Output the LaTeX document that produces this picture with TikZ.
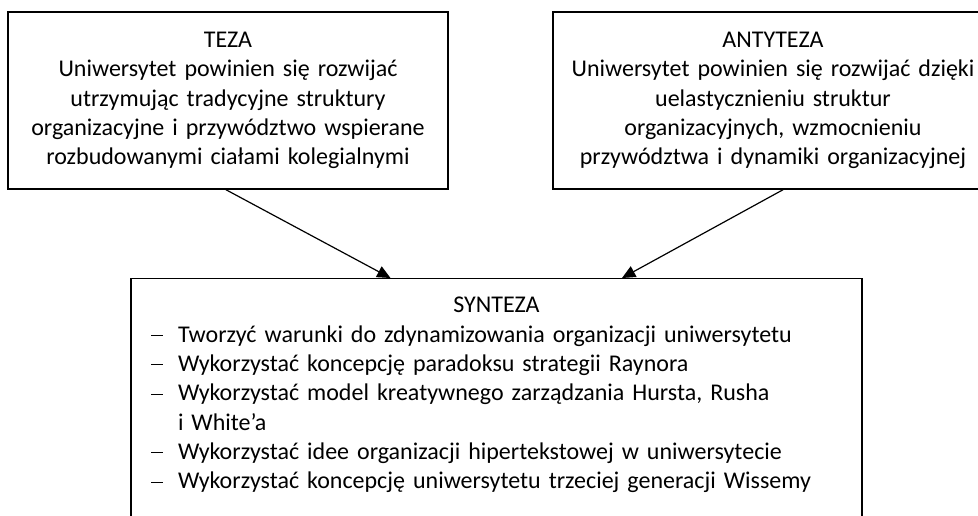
\documentclass[tikz,border=0pt]{standalone}
\usepackage{fontspec}
\setmainfont{Carlito}
\usetikzlibrary{arrows.meta, calc, positioning}

\begin{document}
\begin{tikzpicture}[x=0.75pt, y=-0.75pt, > = {Triangle[length=10pt, width=9pt]},
    font=\fontsize{18pt}{22pt}\selectfont]
    \tikzset{
      my box/.style={
        draw, line width=1.1pt, rectangle, align=center, inner sep=0pt,
        minimum width=330pt, text width=310pt, minimum height=132.75pt
      },
      my list box/.style={
        draw, line width=1.1pt, rectangle, align=left, inner sep=0pt,
        text width=548.25pt, text height=25.5pt, text depth=170pt
      },
      my arrow/.style={->, line width=0.9pt},
    }
    \def\ItemDash{\rule[0.26em]{0.5em}{0.7pt}}
    \useasboundingbox (0,0) rectangle (978,515);
    \clip (0,0) rectangle (978,515);

    % Thesis and antithesis
    \node (teza) [my box] at (228,100.5)
    {TEZA\\Uniwersytet powinien się rozwijać\\utrzymując tradycyjne struktury\\
     organizacyjne i przywództwo wspierane\\rozbudowanymi ciałami kolegialnymi};
    \node (antyteza) [my box] at (773,100.5)
    {ANTYTEZA\\Uniwersytet powinien się rozwijać dzięki\\uelastycznieniu struktur\\
     organizacyjnych, wzmocnieniu\\przywództwa i dynamiki organizacyjnej};

    % Synthesis
    \node (synteza) [my list box, anchor=north] at (496.5,278)
    {{\centering SYNTEZA\par}
     \begin{list}{\ItemDash}{\setlength{\leftmargin}{35.25pt}\setlength{\labelsep}{11.25pt}%
       \setlength{\labelwidth}{24pt}\setlength{\itemsep}{0pt}\setlength{\parsep}{0pt}%
       \setlength{\topsep}{0pt}\setlength{\partopsep}{0pt}}
       \item Tworzyć warunki do zdynamizowania organizacji uniwersytetu
       \item Wykorzystać koncepcję paradoksu strategii Raynora
       \item Wykorzystać model kreatywnego zarządzania Hursta, Rusha\newline i White’a
       \item Wykorzystać idee organizacji hipertekstowej w uniwersytecie
       \item Wykorzystać koncepcję uniwersytetu trzeciej generacji Wissemy
     \end{list}};

    % Arrows
    \draw[my arrow] ($(teza.south)+(-2,0)$) -- ($(synteza.north)+(-106,0)$);
    \draw[my arrow] ($(antyteza.south)+(10,0)$) -- ($(synteza.north)+(125.5,0)$);

\end{tikzpicture}
\end{document}
